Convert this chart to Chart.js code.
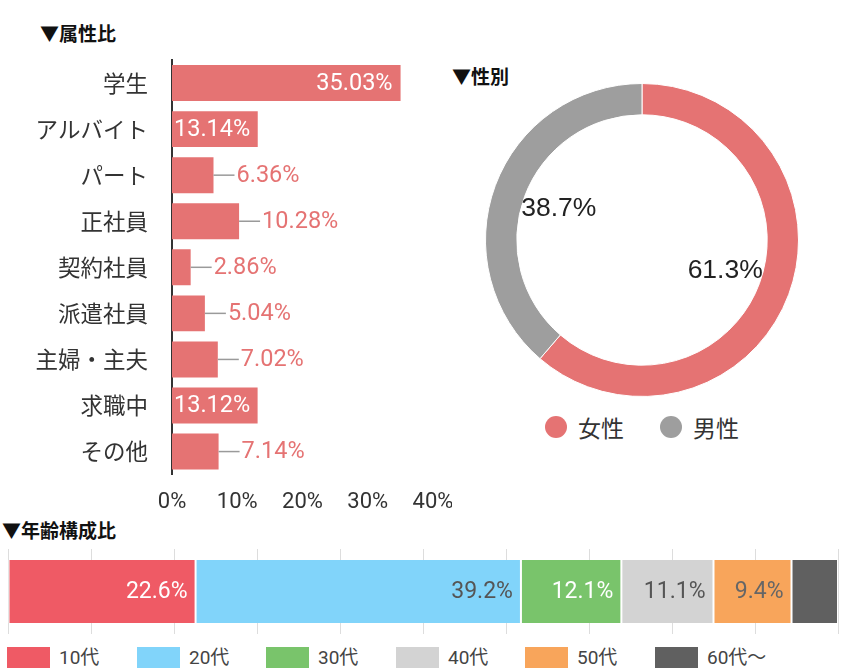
<!DOCTYPE html>
<html lang="ja">
<head>
<meta charset="utf-8">
<script src="https://cdn.jsdelivr.net/npm/chart.js@4.4.1/dist/chart.umd.min.js"></script>
<style>
  html, body { margin: 0; padding: 0; background: #fff; }
  body { width: 842px; height: 670px; position: relative; overflow: hidden;
         font-family: Roboto, "Noto Sans CJK JP", sans-serif; }
  .title { position: absolute; font: bold 19px "Noto Sans CJK JP", sans-serif; line-height: 20px; color: #111; }
  canvas { position: absolute; }
  .legend-item { position: absolute; display: flex; align-items: center; color: #444; }
  .sw-box { width: 43px; height: 21px; margin-right: 9px; }
  .sw-dot { width: 22px; height: 22px; border-radius: 50%; margin-right: 11px; }
</style>
</head>
<body>
<div class="title" style="left:40px; top:23px;">▼属性比</div>
<div class="title" style="left:452px; top:66px;">▼性別</div>
<div class="title" style="left:2px; top:520px;">▼年齢構成比</div>

<canvas id="attr-chart" style="left:0; top:50px;" width="452" height="481"></canvas>
<canvas id="gender-chart" style="left:485px; top:83px;" width="314" height="314"></canvas>
<canvas id="age-chart" style="left:0; top:540px;" width="842" height="100"></canvas>
<div id="gender-legend"></div>
<div id="age-legend"></div>

<script>
// 属性比
const attrLabels = ['学生', 'アルバイト', 'パート', '正社員', '契約社員', '派遣社員', '主婦・主夫', '求職中', 'その他'];
const attrValues = [35.03, 13.14, 6.36, 10.28, 2.86, 5.04, 7.02, 13.12, 7.14];
const attrTicks = ['0%', '10%', '20%', '30%', '40%'];

// 性別
const genderLabels = ['女性', '男性'];
const genderValues = [61.3, 38.7];

// 年齢構成比
const ageLabels = ['10代', '20代', '30代', '40代', '50代', '60代〜'];
const ageValues = [22.6, 39.2, 12.1, 11.1, 9.4, 5.6];

const PINK = '#e57373';
const GREY = '#9e9e9e';
const ageColors = ['#ef5a65', '#81d4fa', '#79c46b', '#d3d3d3', '#f8a55b', '#606060'];
const ageTextColors = ['#ffffff', '#555555', '#ffffff', '#555555', '#666666', '#ffffff'];

// value labels for the attribute bars: inside when they fit, otherwise a leader line
const attrLabelPlugin = {
    id: 'attrLabels',
    afterDatasetsDraw(chart) {
        const ctx = chart.ctx;
        const meta = chart.getDatasetMeta(0);
        ctx.save();
        ctx.font = '23.5px Roboto';
        ctx.textBaseline = 'middle';
        meta.data.forEach((bar, i) => {
            const text = attrValues[i].toFixed(2) + '%';
            const tw = ctx.measureText(text).width;
            const w = bar.x - bar.base;
            if (w >= tw + 16) {
                ctx.fillStyle = '#fff';
                ctx.textAlign = 'right';
                ctx.fillText(text, bar.x - 8, bar.y + 1);
            } else if (w >= tw) {
                ctx.fillStyle = '#fff';
                ctx.textAlign = 'left';
                ctx.fillText(text, bar.base + 2, bar.y + 1);
            } else {
                ctx.strokeStyle = '#9a9a9a';
                ctx.lineWidth = 1.5;
                ctx.beginPath();
                ctx.moveTo(bar.x, bar.y);
                ctx.lineTo(bar.x + 21, bar.y);
                ctx.stroke();
                ctx.fillStyle = PINK;
                ctx.textAlign = 'left';
                ctx.fillText(text, bar.x + 23, bar.y + 1);
            }
        });
        ctx.restore();
    }
};

new Chart(document.getElementById('attr-chart'), {
    type: 'bar',
    data: {
        labels: attrLabels,
        datasets: [{
            data: attrValues,
            backgroundColor: PINK,
            barPercentage: 0.78,
            categoryPercentage: 1
        }]
    },
    options: {
        indexAxis: 'y',
        responsive: false,
        animation: false,
        layout: { padding: { top: 10, right: 19 } },
        plugins: { legend: { display: false }, tooltip: { enabled: false } },
        scales: {
            x: {
                min: 0,
                max: 40,
                afterFit: (scale) => { scale.paddingLeft = 0; scale.paddingRight = 0; },
                grid: { display: false, drawTicks: false },
                border: { display: false },
                ticks: {
                    stepSize: 10,
                    padding: 15,
                    color: '#333',
                    font: { family: 'Roboto', size: 22 },
                    callback: (v, i) => attrTicks[i]
                }
            },
            y: {
                afterFit: (scale) => {
                    scale.width = 172;
                    scale.paddingTop = 0;
                    scale.paddingBottom = 0;
                },
                grid: { display: false, drawTicks: false },
                border: { display: true, color: '#333', width: 2 },
                ticks: {
                    padding: 24,
                    color: '#333',
                    font: { family: 'Noto Sans CJK JP', size: 22.5 }
                }
            }
        }
    },
    plugins: [attrLabelPlugin]
});

// percentage labels on the doughnut ring
const genderLabelPlugin = {
    id: 'genderLabels',
    afterDatasetsDraw(chart) {
        const ctx = chart.ctx;
        const meta = chart.getDatasetMeta(0);
        ctx.save();
        ctx.font = '26.5px "Liberation Sans"';
        ctx.fillStyle = '#222';
        ctx.textAlign = 'center';
        ctx.textBaseline = 'middle';
        meta.data.forEach((arc, i) => {
            const mid = (arc.startAngle + arc.endAngle) / 2;
            const r = arc.outerRadius * 0.567;
            ctx.fillText(genderValues[i].toFixed(1) + '%', arc.x + Math.cos(mid) * r, arc.y + Math.sin(mid) * r);
        });
        ctx.restore();
    }
};

new Chart(document.getElementById('gender-chart'), {
    type: 'doughnut',
    data: {
        labels: genderLabels,
        datasets: [{
            data: genderValues,
            backgroundColor: [PINK, GREY],
            borderColor: '#fff',
            borderWidth: 1
        }]
    },
    options: {
        responsive: false,
        animation: false,
        cutout: '80%',
        plugins: { legend: { display: false }, tooltip: { enabled: false } }
    },
    plugins: [genderLabelPlugin]
});

// labels inside the stacked age segments
const ageLabelPlugin = {
    id: 'ageLabels',
    afterDatasetsDraw(chart) {
        const ctx = chart.ctx;
        ctx.save();
        ctx.font = '23px Roboto';
        ctx.textAlign = 'right';
        ctx.textBaseline = 'middle';
        chart.data.datasets.forEach((ds, di) => {
            const bar = chart.getDatasetMeta(di).data[0];
            const text = ageValues[di].toFixed(1) + '%';
            const tw = ctx.measureText(text).width;
            if (bar.x - bar.base < tw + 14) return;
            ctx.fillStyle = ageTextColors[di];
            ctx.fillText(text, bar.x - 8, bar.y + 1);
        });
        ctx.restore();
    }
};

new Chart(document.getElementById('age-chart'), {
    type: 'bar',
    data: {
        labels: ['年齢'],
        datasets: ageLabels.map((label, i) => ({
            label: label,
            data: [ageValues[i]],
            backgroundColor: ageColors[i],
            borderColor: '#fff',
            borderWidth: { left: 1, right: 1, top: 0, bottom: 0 },
            borderSkipped: false,
            barPercentage: 0.74,
            categoryPercentage: 1
        }))
    },
    options: {
        indexAxis: 'y',
        responsive: false,
        animation: false,
        layout: { padding: { left: 8, right: 4, top: 9, bottom: 6 } },
        plugins: { legend: { display: false }, tooltip: { enabled: false } },
        scales: {
            x: {
                stacked: true,
                min: 0,
                max: 100,
                grid: { color: '#dddddd', drawTicks: false },
                border: { display: false },
                ticks: { display: false, stepSize: 10 }
            },
            y: { stacked: true, display: false }
        }
    },
    plugins: [ageLabelPlugin]
});

// HTML legends
const genderLegend = document.getElementById('gender-legend');
const genderX = [545, 660];
genderLabels.forEach((label, i) => {
    const item = document.createElement('div');
    item.className = 'legend-item';
    item.style.left = genderX[i] + 'px';
    item.style.top = '414px';
    item.style.height = '26px';
    item.style.font = '23px/26px "Noto Sans CJK JP"';
    item.style.color = '#333';
    item.innerHTML = '<span class="sw-dot" style="background:' + [PINK, GREY][i] + '"></span>' + label;
    genderLegend.appendChild(item);
});

const ageLegend = document.getElementById('age-legend');
ageLabels.forEach((label, i) => {
    const item = document.createElement('div');
    item.className = 'legend-item';
    item.style.left = Math.round(7 + i * 129.6) + 'px';
    item.style.top = '647px';
    item.style.height = '21px';
    item.style.font = '19px/21px Roboto, "Noto Sans CJK JP"';
    item.innerHTML = '<span class="sw-box" style="background:' + ageColors[i] + '"></span>' + label;
    ageLegend.appendChild(item);
});
</script>
</body>
</html>
